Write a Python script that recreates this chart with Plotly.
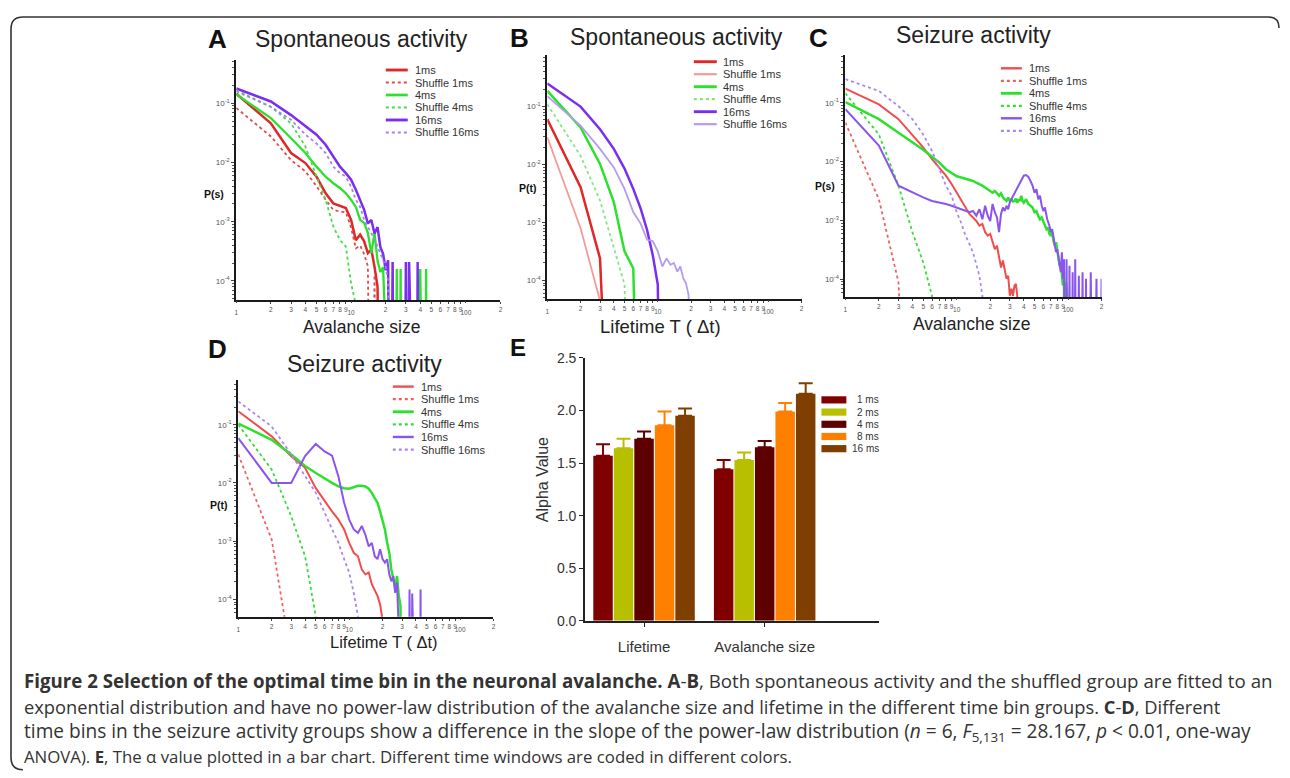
import math
import plotly.graph_objects as go

# Measured page geometry: figure starts 8px from the left and ~16px from the top,
# and the photographed region is squeezed vertically by ~0.98.
OX, OY, SY = 8, 16.3, 0.9798
W, H = 1274, 778
FONT = "Liberation Sans, Arial, Helvetica, sans-serif"
CAPFONT = "Open Sans, Liberation Sans, sans-serif"

# ------------------------------------------------------------------
# DATA  (log10 P; -9 marks an empty bin -> drop)
# ------------------------------------------------------------------
A_1ms = [-0.84, -1.34, -1.84, -2.01, -2.24, -2.52, -2.69, -2.73, -2.77, -2.97,
         -3.31, -3.22, -3.33, -3.53, -3.47, -3.76, -4.10, -9]
A_sh1 = [-1.08, -1.56, -1.96, -2.15, -2.40, -2.63, -2.80, -2.83, -2.84, -3.10,
         -3.45, -3.40, -3.55, -3.75, -9, -3.90, -9]
A_4ms_x = list(range(1, 21)) + [24, 25, 26, 27, 28, 39, 40, 41, 44, 45, 46]
A_4ms = [-0.85, -1.25, -1.59, -1.84, -2.07, -2.24, -2.35, -2.43, -2.52, -2.63,
         -2.75, -2.97, -3.02, -3.19, -3.53, -3.19, -3.66, -3.85, -3.77, -9,
         -9, -3.80, -9, -3.80, -9, -9, -3.80, -9, -9, -3.80, -9]
A_sh4 = [-0.80, -1.06, -1.34, -1.73, -2.24, -2.63, -3.08, -3.31, -3.42, -4.04,
         -4.40, -9]
A_16ms_x = list(range(1, 25)) + [29, 30, 31, 32, 33, 37, 38, 39]
A_16ms = [-0.75, -0.97, -1.20, -1.39, -1.53, -1.70, -1.90, -2.07, -2.18, -2.29,
          -2.46, -2.63, -2.80, -3.03, -2.97, -3.20, -3.09, -3.43, -3.54, -3.82,
          -3.65, -9, -3.68, -9, -9, -3.68, -9, -3.68, -9, -9, -3.68, -9]
A_sh16 = [-0.78, -1.06, -1.28, -1.53, -1.68, -1.84, -2.07, -2.18, -2.24, -2.41,
          -2.63, -2.75, -2.97, -3.08, -3.19, -3.30, -3.42, -3.53, -3.64, -3.76,
          -4.00, -9]

B_1ms = [-1.22, -2.39, -3.62, -9]
B_sh1 = [-1.53, -3.10, -4.35, -9]
B_4ms = [-0.73, -1.36, -1.99, -2.65, -3.50, -3.79, -9]
B_sh4 = [-0.96, -1.85, -2.62, -3.45, -4.07, -9]
B_16ms = [-0.60, -1.00, -1.39, -1.73, -2.07, -2.42, -2.76, -3.13, -3.56, -4.07, -9]
B_sh16 = [-0.82, -1.33, -1.73, -2.05, -2.42, -2.82, -3.02, -3.30, -3.32, -3.50,
          -3.76, -3.62, -3.73, -3.70, -3.85, -3.76, -3.96, -4.05, -4.25, -9]

C_1ms = [-0.76, -1.03, -1.28, -1.54, -1.76, -1.96, -2.10, -2.24, -2.38, -2.53,
         -2.67, -2.78, -2.89, -2.95, -3.01, -3.09, -3.06, -3.20, -3.26, -3.23,
         -3.37, -3.49, -3.43, -3.60, -3.80, -3.68, -3.88, -3.99, -3.94, -4.28,
         -4.16, -4.28, -4.11, -4.08, -4.28, -9]
C_sh1 = [-1.34, -2.64, -4.05, -9]
C_4ms_x = list(range(1, 41)) + list(range(42, 101, 2))
C_4ms = [-0.99, -1.28, -1.51, -1.67, -1.80, -1.92, -2.02, -2.13, -2.20, -2.25,
         -2.27, -2.29, -2.30, -2.33, -2.36, -2.38, -2.41, -2.44, -2.47, -2.50,
         -2.53, -2.50, -2.55, -2.58, -2.54, -2.61, -2.64, -2.67, -2.61, -2.67,
         -2.64, -2.68, -2.67, -2.63, -2.70, -2.64, -2.67, -2.58, -2.67, -2.70,
         -2.64, -2.72, -2.75, -2.78, -2.86, -2.84, -2.92, -2.98, -2.95, -3.03,
         -3.09, -3.15, -3.12, -3.23, -3.26, -3.20, -3.35, -3.43, -3.37, -3.54,
         -3.66, -3.77, -3.71, -3.94, -4.11, -3.88, -9, -4.05, -4.28, -9]
C_sh4 = [-0.84, -1.54, -2.41, -3.20, -3.71, -4.28, -9]
C_16ms_x = list(range(1, 41)) + [42, 44, 46, 48, 50, 52, 54, 56, 58, 60, 62, 65,
                                 68, 70, 72, 75, 78, 80, 83, 86, 88, 90, 92, 95,
                                 97, 100, 103, 106, 110, 113, 116, 120, 125, 130,
                                 135, 140, 145, 150, 160, 170, 180, 190, 200]
C_16ms = [-1.11, -1.73, -2.41, -2.53, -2.61, -2.67, -2.69, -2.72, -2.75, -2.78,
          -2.81, -2.84, -2.86, -2.84, -2.92, -2.81, -2.98, -2.75, -2.92, -3.01,
          -2.72, -2.86, -2.95, -3.20, -2.89, -2.78, -2.84, -2.75, -2.81, -2.69,
          -2.64, -2.58, -2.55, -2.50, -2.44, -2.41, -2.36, -2.33, -2.30, -2.24,
          -2.23, -2.26, -2.33, -2.41, -2.53, -2.47, -2.64, -2.58, -2.75, -2.84,
          -2.78, -2.98, -3.09, -3.20, -3.15, -3.37, -3.54, -3.49, -3.66, -3.88,
          -3.54, -3.99, -3.66, -9, -3.66, -9, -3.77, -9, -3.88, -9,
          -3.66, -9, -3.94, -9, -3.88, -9, -3.99, -9, -3.88, -9,
          -3.99, -9, -3.99]
C_sh16 = [-0.60, -0.80, -1.06, -1.28, -1.54, -1.82, -2.13, -2.41, -2.58, -2.86,
          -3.05, -3.26, -3.40, -3.54, -3.75, -3.94, -4.28, -9]

D_1ms = [-0.77, -1.20, -1.54, -1.74, -2.09, -2.31, -2.49, -2.63, -2.80, -3.03,
         -3.20, -3.26, -3.49, -3.57, -3.54, -3.74, -3.83, -3.94, -4.09, -4.35, -9]
D_sh1 = [-1.51, -2.97, -5.00]
D_4ms = [-0.98, -1.26, -1.51, -1.71, -1.83, -1.93, -2.00, -2.06, -2.09, -2.10,
         -2.07, -2.05, -2.05, -2.06, -2.10, -2.17, -2.26, -2.34, -2.49, -2.63,
         -2.80, -3.03, -3.20, -3.49, -3.66, -3.80, -3.60, -3.94, -4.11, -9]
D_sh4 = [-1.00, -1.77, -2.57, -3.26, -4.29, -9]
D_16ms_x = list(range(1, 29)) + [34, 35, 36, 37, 38, 43, 44, 45]
D_16ms = [-1.23, -2.00, -2.00, -1.54, -1.33, -1.46, -1.53, -1.89, -2.34, -2.63,
          -2.80, -2.86, -2.74, -2.89, -3.09, -3.03, -3.26, -3.31, -3.14, -3.31,
          -3.37, -3.31, -3.57, -3.69, -3.60, -3.89, -3.71, -9,
          -9, -3.83, -9, -3.90, -9, -9, -3.83, -9]
D_sh16 = [-0.60, -1.03, -1.51, -1.89, -2.17, -2.51, -2.80, -3.03, -3.31, -3.54,
          -3.89, -4.29, -9]

SERIES_NAMES = ["1ms", "Shuffle 1ms", "4ms", "Shuffle 4ms", "16ms", "Shuffle 16ms"]

E_groups = ["Lifetime", "Avalanche size"]
E_bins = ["1 ms", "2 ms", "4 ms", "8 ms", "16 ms"]
E_lifetime = [1.57, 1.64, 1.73, 1.86, 1.95]
E_lifetime_err = [0.11, 0.09, 0.07, 0.13, 0.07]
E_avalanche = [1.44, 1.53, 1.65, 1.99, 2.16]
E_avalanche_err = [0.09, 0.07, 0.06, 0.08, 0.10]
E_colors = ["#800000", "#b8bf00", "#5e0000", "#ff8000", "#7f3f00"]

XT_MINOR = [2, 3, 4, 5, 6, 7, 8, 9, 20, 30, 40, 50, 60, 70, 80, 90, 200]
XTT_MINOR = ["2", "3", "4", "5", "6", "7", "8", "9",
             "2", "3", "4", "5", "6", "7", "8", "9", "2"]
XT_MAJOR = [1, 10, 100]
XTT_MAJOR = ["1", "10", "100"]
YT = [1e-4, 1e-3, 1e-2, 1e-1]
YTT = ["10<sup>-4</sup>", "10<sup>-3</sup>", "10<sup>-2</sup>", "10<sup>-1</sup>"]


def xp(p):
    return (p - OX) / W


def yp(p):
    return 1 - (p / SY - OY) / H


def seq(v):
    return list(range(1, len(v) + 1))


STY_AB = [
    dict(color="#dc2a2a", width=2.5),
    dict(color="#e24a4a", width=1.8, dash="dot"),
    dict(color="#2ee02e", width=2.3),
    dict(color="#45dd45", width=1.8, dash="dot"),
    dict(color="#7a2ff0", width=2.5),
    dict(color="#a480f0", width=1.8, dash="dot"),
]
STY_B = [
    dict(color="#e02828", width=2.5),
    dict(color="#f59a9a", width=1.8),
    dict(color="#2ee02e", width=2.5),
    dict(color="#80e880", width=1.8, dash="dot"),
    dict(color="#7a2ff0", width=2.5),
    dict(color="#b59cf0", width=1.8),
]
STY_CD = [
    dict(color="#f04e4e", width=2.0),
    dict(color="#f06060", width=1.8, dash="dot"),
    dict(color="#2ee02e", width=2.5),
    dict(color="#33dd33", width=1.8, dash="dot"),
    dict(color="#8a55ee", width=2.0),
    dict(color="#a987f0", width=1.8, dash="dot"),
]

panels = [
    dict(ax="", ox="6", x=(235, 500), y=(60, 300), yr=(-4.32, -0.27), sty=STY_AB,
         data=[(seq(A_1ms), A_1ms), (seq(A_sh1), A_sh1), (A_4ms_x, A_4ms),
               (seq(A_sh4), A_sh4), (A_16ms_x, A_16ms), (seq(A_sh16), A_sh16)],
         leg=dict(lx=(385, 407), tx=412, y0=70, dy=12.5)),
    dict(ax="2", ox="7", x=(547, 802), y=(55, 299), yr=(-4.32, -0.11), sty=STY_B,
         data=[(seq(B_1ms), B_1ms), (seq(B_sh1), B_sh1), (seq(B_4ms), B_4ms),
               (seq(B_sh4), B_sh4), (seq(B_16ms), B_16ms), (seq(B_sh16), B_sh16)],
         leg=dict(lx=(694, 717), tx=721, y0=61.7, dy=12.5)),
    dict(ax="3", ox="8", x=(846, 1103), y=(55, 297), yr=(-4.30, -0.19), sty=STY_CD,
         data=[(seq(C_1ms), C_1ms), (seq(C_sh1), C_sh1), (C_4ms_x, C_4ms),
               (seq(C_sh4), C_sh4), (C_16ms_x, C_16ms), (seq(C_sh16), C_sh16)],
         leg=dict(lx=(1002, 1023), tx=1028, y0=68.3, dy=12.5)),
    dict(ax="4", ox="9", x=(237, 493), y=(380, 617), yr=(-4.30, -0.23), sty=STY_CD,
         data=[(seq(D_1ms), D_1ms), (seq(D_sh1), D_sh1), (seq(D_4ms), D_4ms),
               (seq(D_sh4), D_sh4), (D_16ms_x, D_16ms), (seq(D_sh16), D_sh16)],
         leg=dict(lx=(392, 413), tx=418, y0=386.7, dy=12.6)),
]

fig = go.Figure()
shapes = []
annotations = []
layout = {}

YM = [k * 10 ** e for e in range(-5, 0) for k in range(2, 10)]

for p in panels:
    ax = p["ax"]
    for (xs, lv), st, nm in zip(p["data"], p["sty"], SERIES_NAMES):
        fig.add_trace(go.Scatter(
            x=xs, y=[10 ** v for v in lv], mode="lines", name=nm,
            line=dict(shape="linear", **st), xaxis="x" + ax, yaxis="y" + ax,
            showlegend=False, hoverinfo="skip"))
    dom = [xp(p["x"][0]), xp(p["x"][1])]
    layout["xaxis" + ax] = dict(
        type="log", range=[0, math.log10(200)], domain=dom, anchor="y" + ax,
        showline=True, linecolor="#1a1a1a", linewidth=2, ticks="outside",
        ticklen=2, tickcolor="#444", tickvals=XT_MINOR, ticktext=XTT_MINOR,
        tickangle=0, tickfont=dict(size=6.5, color="#555", family=FONT),
        showgrid=False, zeroline=False, fixedrange=True)
    # overlay axis carrying the decade labels, set a little lower
    layout["xaxis" + p["ox"]] = dict(
        type="log", range=[0, math.log10(200)], domain=dom, anchor="y" + ax,
        overlaying="x" + ax, side="bottom", showline=False, ticks="outside",
        ticklen=2, tickcolor="#444", tickvals=XT_MAJOR, ticktext=XTT_MAJOR,
        tickangle=0, ticklabelstandoff=4,
        tickfont=dict(size=6.5, color="#555", family=FONT),
        showgrid=False, zeroline=False, fixedrange=True)
    layout["yaxis" + ax] = dict(
        type="log", range=list(p["yr"]),
        domain=[yp(p["y"][1]), yp(p["y"][0])], anchor="x" + ax,
        showline=True, linecolor="#1a1a1a", linewidth=2, ticks="outside",
        ticklen=3, tickcolor="#444", tickvals=YT, ticktext=YTT,
        tickfont=dict(size=8, color="#555", family=FONT),
        minor=dict(tickvals=YM, ticks="outside", ticklen=2, tickcolor="#555"),
        showgrid=False, zeroline=False, fixedrange=True)
    fig.add_trace(go.Scatter(x=[1], y=[None], mode="markers", xaxis="x" + p["ox"],
                             yaxis="y" + ax, showlegend=False, hoverinfo="skip"))
    lg = p["leg"]
    for i, (st, nm) in enumerate(zip(p["sty"], SERIES_NAMES)):
        yy = lg["y0"] + i * lg["dy"]
        shapes.append(dict(type="line", xref="paper", yref="paper",
                           x0=xp(lg["lx"][0]), x1=xp(lg["lx"][1]),
                           y0=yp(yy), y1=yp(yy),
                           line=dict(color=st["color"], width=st["width"] + 0.4,
                                     dash=st.get("dash", "solid"))))
        annotations.append(dict(text=nm, x=xp(lg["tx"]), y=yp(yy), xref="paper",
                                yref="paper", xanchor="left", yanchor="middle",
                                showarrow=False,
                                font=dict(size=11, color="#333", family=FONT)))

for i, b in enumerate(E_bins):
    fig.add_trace(go.Bar(
        x=[0, 1], y=[E_lifetime[i], E_avalanche[i]], name=b,
        marker=dict(color=E_colors[i], line=dict(width=0)),
        error_y=dict(type="data", symmetric=False,
                     array=[E_lifetime_err[i], E_avalanche_err[i]],
                     arrayminus=[0, 0], color=E_colors[i], thickness=2, width=7),
        xaxis="x5", yaxis="y5", showlegend=False, hoverinfo="skip"))
    yy = 400 + i * 12.2
    shapes.append(dict(type="rect", xref="paper", yref="paper",
                       x0=xp(822), x1=xp(847), y0=yp(yy - 3.6), y1=yp(yy + 3.6),
                       fillcolor=E_colors[i], line=dict(width=0)))
    annotations.append(dict(text=b, x=xp(882), y=yp(yy), xref="paper", yref="paper",
                            xanchor="right", yanchor="middle", showarrow=False,
                            font=dict(size=10, color="#333", family=FONT)))

layout["xaxis5"] = dict(
    domain=[xp(585), xp(880)], range=[-0.488, 1.95], anchor="y5",
    tickvals=[0, 1], ticktext=E_groups, ticks="outside", ticklen=4,
    tickcolor="#222", ticklabelstandoff=7,
    tickfont=dict(size=15, color="#333", family=FONT),
    showline=True, linecolor="#222", linewidth=2, showgrid=False,
    zeroline=False, fixedrange=True)
layout["yaxis5"] = dict(
    domain=[yp(621), yp(358)], range=[0, 2.5], dtick=0.5, tickformat=".1f",
    anchor="x5", ticks="outside", ticklen=4, tickcolor="#222",
    tickfont=dict(size=14, color="#333", family=FONT),
    showline=True, linecolor="#222", linewidth=2, showgrid=False,
    zeroline=False, fixedrange=True)


def ann(text, x, y, size, color="#222", bold=False, angle=0, anchor="center",
        family=FONT):
    annotations.append(dict(
        text=("<b>%s</b>" % text) if bold else text, x=xp(x), y=yp(y),
        xref="paper", yref="paper", xanchor=anchor, yanchor="middle",
        showarrow=False, textangle=angle,
        font=dict(size=size, color=color, family=family)))


ann("A", 216, 39, 26, "#111", bold=True)
ann("Spontaneous activity", 361, 39, 23)
ann("B", 519, 38, 26, "#111", bold=True)
ann("Spontaneous activity", 677, 37, 23)
ann("C", 819, 38, 26, "#111", bold=True)
ann("Seizure activity", 975, 35, 23)
ann("D", 216, 349, 26, "#111", bold=True)
ann("Seizure activity", 364, 364, 23)
ann("E", 518, 348, 24, "#111", bold=True)

ann("Avalanche size", 361, 327, 17.5)
ann("Lifetime T ( \u0394t)", 661, 327, 18.5)
ann("Avalanche size", 973, 324, 17.5)
ann("Lifetime T ( \u0394t)", 383, 642, 16.5)

ann("P(s)", 213, 194, 10.5, "#111", bold=True)
ann("P(t)", 528, 188, 10.5, "#111", bold=True)
ann("P(s)", 826, 186, 10.5, "#111", bold=True)
ann("P(t)", 218, 505, 10.5, "#111", bold=True)

ann("Alpha Value", 543, 480, 16, "#333", angle=-90)

ann("<b>Figure 2 Selection of the optimal time bin in the neuronal avalanche. "
    "A</b>-<b>B</b>, Both spontaneous activity and the shuffled group are fitted to an",
    20, 681, 18.7, "#333", anchor="left", family=CAPFONT)
ann("exponential distribution and have no power-law distribution of the avalanche "
    "size and lifetime in the different time bin groups. <b>C</b>-<b>D</b>, Different",
    20, 707, 18.3, "#333", anchor="left", family=CAPFONT)
ann("time bins in the seizure activity groups show a difference in the slope of the "
    "power-law distribution (<i>n</i> = 6, <i>F</i><sub>5,131</sub> = 28.167, "
    "<i>p</i> &lt; 0.01, one-way", 20, 732, 19.1, "#333", anchor="left",
    family=CAPFONT)
ann("ANOVA). <b>E</b>, The \u03b1 value plotted in a bar chart. Different time windows "
    "are coded in different colors.", 20, 757, 16.8, "#333", anchor="left",
    family=CAPFONT)

# rounded frame (top edge sits at the top of the drawable area)
top, bot = 16.9, 770.0
frame = "M %f,%f Q %f,%f %f,%f L %f,%f Q %f,%f %f,%f L %f,%f Q %f,%f %f,%f" % (
    xp(21), yp(bot), xp(9), yp(bot), xp(9), yp(bot - 12),
    xp(9), yp(top + 12), xp(9), yp(top), xp(21), yp(top),
    xp(1270), yp(top), xp(1281), yp(top), xp(1281), yp(top + 11))
shapes.append(dict(type="path", xref="paper", yref="paper", path=frame,
                   line=dict(color="#333", width=1.6)))

fig.update_layout(
    width=W, height=H, margin=dict(l=0, r=0, t=0, b=0),
    paper_bgcolor="white", plot_bgcolor="white",
    barmode="group", bargap=0.15, bargroupgap=0.05,
    shapes=shapes, annotations=annotations, showlegend=False,
    font=dict(family=FONT), **layout)

fig.write_html("out.html", config={"displayModeBar": False})
